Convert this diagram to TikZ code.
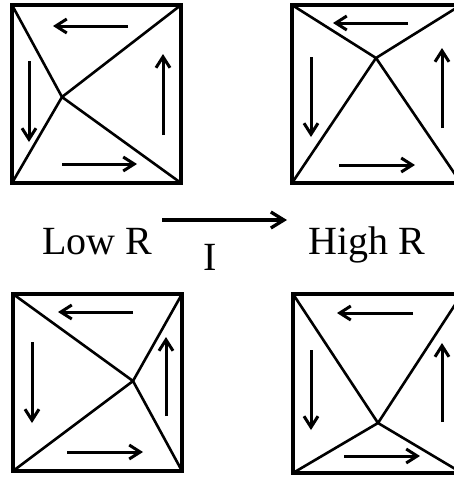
\documentclass[tikz,border=0pt]{standalone}
\usepackage{fontspec}
\setmainfont{Liberation Serif}
\usetikzlibrary{arrows.meta}

\begin{document}
\begin{tikzpicture}[
  x=1pt,y=-1pt,
  frame/.style={draw=black,line width=3.5pt},
  spoke/.style={draw=black,line width=2.6pt},
  flow/.style={-{Straight Barb[length=11pt,width=14pt]},line width=3pt},
  current/.style={-{Straight Barb[length=13pt,width=16pt]},line width=3.3pt},
  label/.style={font=\fontsize{40}{48}\selectfont,inner sep=0pt}
]
\useasboundingbox (0,0) rectangle (454,477);

% four squares: name/left/top/right/bottom/meeting point
\foreach \n/\l/\t/\r/\b/\cx/\cy in {sqa/12/5/181/183/62/97, sqb/292/5/461/183/376/58,
    sqc/13/294/182/471/133/381, sqd/293/294/462/473/378/423}{
  \coordinate (\n-nw) at (\l,\t);
  \coordinate (\n-ne) at (\r,\t);
  \coordinate (\n-sw) at (\l,\b);
  \coordinate (\n-se) at (\r,\b);
  \coordinate (\n-o) at (\cx,\cy);
  \draw[spoke] (\n-nw) -- (\n-o) -- (\n-se) (\n-ne) -- (\n-o) -- (\n-sw);
  \draw[frame] (\n-nw) rectangle (\n-se);
}

% circulating arrows
\draw[flow] (128,26) -- (53,26);
\draw[flow] (29,61) -- (29,142);
\draw[flow] (62,164) -- (137,164);
\draw[flow] (163,135) -- (163,54);

\draw[flow] (408,23) -- (333,23);
\draw[flow] (311,57) -- (311,137);
\draw[flow] (339,165) -- (415,165);
\draw[flow] (442,128) -- (442,48);

\draw[flow] (133,312) -- (58,312);
\draw[flow] (32,342) -- (32,423);
\draw[flow] (67,452) -- (143,452);
\draw[flow] (166,416) -- (166,337);

\draw[flow] (413,313) -- (337,313);
\draw[flow] (311,350) -- (311,430);
\draw[flow] (344,456) -- (420,456);
\draw[flow] (442,422) -- (442,343);

% resistance change
\node[label,anchor=base west] (low) at (42,254) {Low R};
\node[label,anchor=base west] (high) at (308,254) {High R};
\draw[current] ([shift={(10,-34)}]low.base east) -- node[label,pos=0.38,below=23pt] (cur) {I} ([shift={(-21,-34)}]high.base west);
\end{tikzpicture}
\end{document}
